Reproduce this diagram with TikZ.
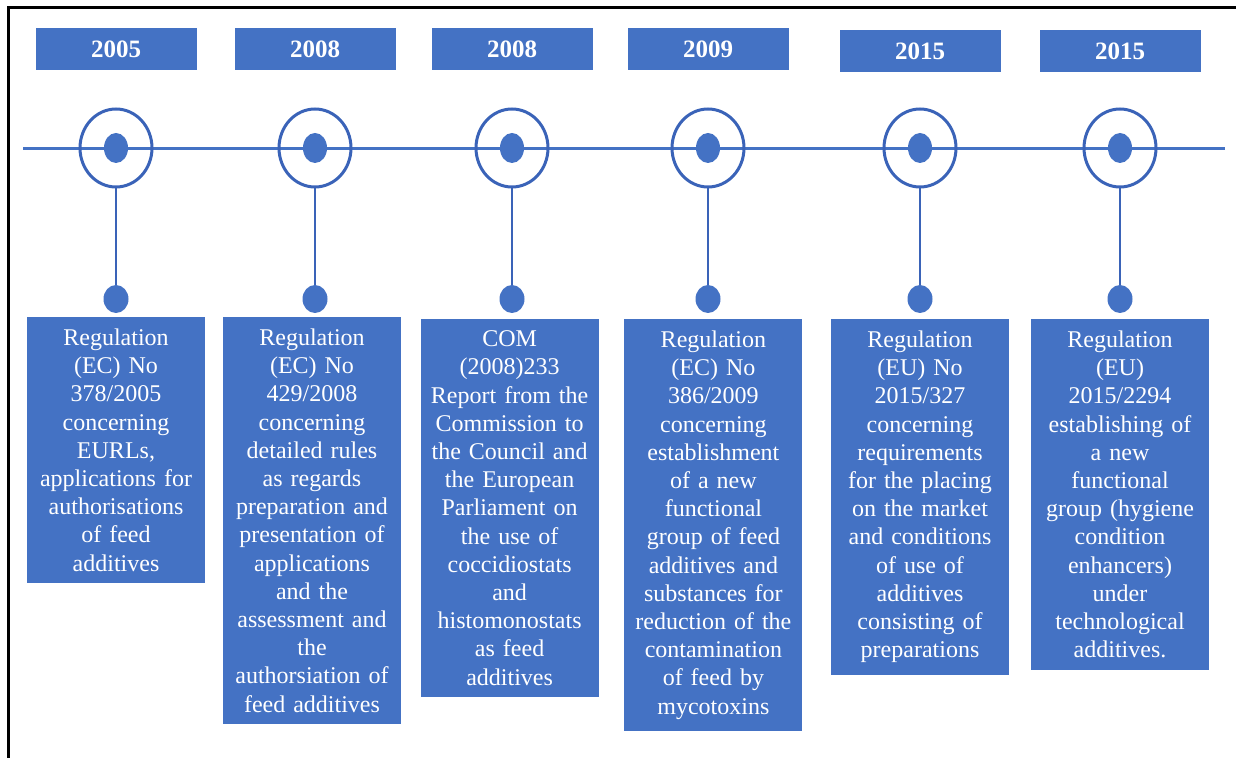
\documentclass[tikz,border=0pt]{standalone}
\usepackage{fontspec}
\setmainfont{Liberation Serif}
\usetikzlibrary{positioning,shapes.geometric}
\definecolor{TimeBlue}{HTML}{4472C4}
\definecolor{RingBlue}{HTML}{3A63B8}
\tikzset{
  yearbox/.style={fill=TimeBlue, text=white, minimum width=80.5pt, minimum height=21pt, inner sep=0pt, font=\fontsize{12.5pt}{14pt}\selectfont\bfseries},
  ring/.style={ellipse, draw=RingBlue, line width=1.5pt, minimum width=36pt, minimum height=39pt, inner sep=0pt},
  hub/.style={ellipse, fill=TimeBlue, minimum width=12pt, minimum height=15pt, inner sep=0pt},
  pin/.style={ellipse, fill=TimeBlue, minimum width=12.5pt, minimum height=14pt, inner sep=0pt},
  infobox/.style={fill=TimeBlue, text=white, text width=85pt, inner xsep=2pt, inner ysep=6pt, align=center, font=\fontsize{12pt}{14.1pt}\selectfont},
  stem/.style={draw=RingBlue, line width=1.2pt},
  axis/.style={draw=TimeBlue, line width=1.5pt}
}
\begin{document}
\begin{tikzpicture}[x=.5pt,y=-.5pt]
\useasboundingbox (0,0) rectangle (1236,758);
% frame
\draw[line width=1.5pt] (8,758) -- (8,8) -- (1236,8);
% time line
\coordinate (tl) at (23,149);
\coordinate (tr) at (1225,149);
\draw[axis] (tl) -- (tr);
\foreach \i/\x/\yy/\yr in {1/116/49/2005,2/315/49/2008,3/512/49/2008,4/708/49/2009,5/920/51/2015,6/1120/51/2015}{
  \node[yearbox] (y\i) at (\x,\yy) {\yr};
  \node[ring] (r\i) at (\x,148) {};
  \node[hub] (h\i) at (r\i) {};
  \node[pin] (p\i) at (\x,299) {};
  \draw[stem] (r\i.south) -- (p\i.north);
}
% texts
\node[infobox, below=1.5pt of p1] (t1) {Regulation\\(EC) No\\378/2005\\concerning\\EURLs,\\applications for\\authorisations\\of feed\\additives};
\node[infobox, below=1.5pt of p2, xshift=-1.5pt] (t2) {Regulation\\(EC) No\\429/2008\\concerning\\detailed rules\\as regards\\preparation and\\presentation of\\applications\\and the\\assessment and\\the\\authorsiation of\\feed additives};
\node[infobox, below=2.5pt of p3, xshift=-1.2pt] (t3) {COM\\(2008)233\\Report from the\\Commission to\\the Council and\\the European\\Parliament on\\the use of\\coccidiostats\\and\\histomonostats\\as feed\\additives};
\node[infobox, below=2.5pt of p4, xshift=2.7pt] (t4) {Regulation\\(EC) No\\386/2009\\concerning\\establishment\\of a new\\functional\\group of feed\\additives and\\substances for\\reduction of the\\contamination\\of feed by\\mycotoxins};
\node[infobox, below=2.5pt of p5] (t5) {Regulation\\(EU) No\\2015/327\\concerning\\requirements\\for the placing\\on the market\\and conditions\\of use of\\additives\\consisting of\\preparations};
\node[infobox, below=2.5pt of p6] (t6) {Regulation\\(EU)\\2015/2294\\establishing of\\a new\\functional\\group (hygiene\\condition\\enhancers)\\under\\technological\\additives.};
\end{tikzpicture}
\end{document}
